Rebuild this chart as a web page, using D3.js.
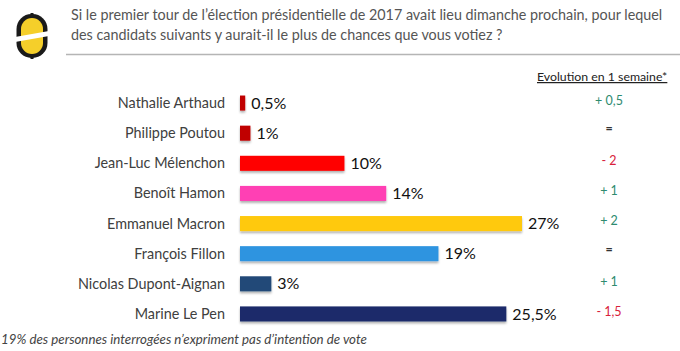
<!DOCTYPE html>
<html>
<head>
<meta charset="utf-8">
<script src="https://cdn.jsdelivr.net/npm/d3@7"></script>
<style>
  body { margin: 0; background: #fff; }
  text { font-family: Lato, sans-serif; }
</style>
</head>
<body>
<div class="container"></div>
<script>
const width = 680;
const height = 351;

const candidates = ["Nathalie Arthaud", "Philippe Poutou", "Jean-Luc Mélenchon", "Benoît Hamon", "Emmanuel Macron", "François Fillon", "Nicolas Dupont-Aignan", "Marine Le Pen"];
const scores = [0.5, 1, 10, 14, 27, 19, 3, 25.5];
const scoreLabels = ["0,5%", "1%", "10%", "14%", "27%", "19%", "3%", "25,5%"];
const barColors = ["#c00000", "#c00000", "#ff0000", "#ff3fb4", "#ffc90e", "#2f94e0", "#234a78", "#1b2a6b"];
const evolutions = ["+ 0,5", "=", "- 2", "+ 1", "+ 2", "=", "+ 1", "- 1,5"];
const titleLines = [
    "Si le premier tour de l’élection présidentielle de 2017 avait lieu dimanche prochain, pour lequel",
    "des candidats suivants y aurait-il le plus de chances que vous votiez ?"
];

const evoColor = (s) => s[0] === "+" ? "#2e8b6f" : s[0] === "-" ? "#d8213b" : "#333";

const svg = d3.select(".container")
    .append("svg")
    .attr("width", width)
    .attr("height", height)
    .style("display", "block");

const defs = svg.append("defs");
const shadow = defs.append("filter").attr("id", "shadow")
    .attr("x", "-20%").attr("y", "-20%").attr("width", "140%").attr("height", "160%");
shadow.append("feDropShadow")
    .attr("dx", 0).attr("dy", 2).attr("stdDeviation", 1.2)
    .attr("flood-color", "#000").attr("flood-opacity", 0.3);

const xScale = d3.scaleLinear().domain([0, 27]).range([240, 522]);
const yScale = d3.scaleBand().domain(candidates).range([88, 329]).paddingInner(0.5).paddingOuter(0.25);

// logo
const logo = svg.append("g").attr("transform", "translate(32, 36)");
logo.append("rect").attr("x", -15.5).attr("y", -22).attr("width", 31).attr("height", 44).attr("rx", 15).attr("fill", "#1a1a1a");
logo.append("rect").attr("x", -1.5).attr("y", -23).attr("width", 3).attr("height", 46).attr("fill", "#1a1a1a");
logo.append("rect").attr("x", -11).attr("y", -18).attr("width", 22).attr("height", 36).attr("rx", 11).attr("fill", "#f5cf2a");
logo.append("path").attr("d", "M-17,1 L17,-5 L17,0 L-17,6 Z").attr("fill", "#fff");

// title
svg.append("g").selectAll("text")
    .data(titleLines)
    .join("text")
    .attr("x", 71)
    .attr("y", (d, i) => 20 + i * 19.5)
    .attr("font-size", 14.35)
    .attr("fill", "#555")
    .text(d => d);

svg.append("line")
    .attr("x1", 66).attr("x2", 680)
    .attr("y1", 54.5).attr("y2", 54.5)
    .attr("stroke", "#b5b5b5")
    .attr("stroke-width", 1.5);

// bars
svg.append("g").selectAll("rect")
    .data(candidates)
    .join("rect")
    .attr("x", xScale(0))
    .attr("y", d => yScale(d))
    .attr("width", (d, i) => xScale(scores[i]) - xScale(0))
    .attr("height", yScale.bandwidth())
    .attr("fill", (d, i) => barColors[i])
    .attr("filter", "url(#shadow)");

// candidate names
svg.append("g").selectAll("text")
    .data(candidates)
    .join("text")
    .attr("x", 225)
    .attr("y", d => yScale(d) + yScale.bandwidth() / 2)
    .attr("dy", "0.35em")
    .attr("text-anchor", "end")
    .attr("font-size", 14.4)
    .attr("fill", "#404040")
    .text(d => d);

// score labels
svg.append("g").selectAll("text")
    .data(scoreLabels)
    .join("text")
    .attr("x", (d, i) => xScale(scores[i]) + 6)
    .attr("y", (d, i) => yScale(candidates[i]) + yScale.bandwidth() / 2)
    .attr("dy", "0.35em")
    .attr("font-size", 16)
    .attr("fill", "#111")
    .text(d => d);

// evolution column
svg.append("text")
    .attr("x", 537).attr("y", 81)
    .attr("font-size", 12.3)
    .attr("fill", "#222")
    .attr("text-decoration", "underline")
    .text("Evolution en 1 semaine*");

svg.append("g").selectAll("text")
    .data(evolutions)
    .join("text")
    .attr("x", 609)
    .attr("y", (d, i) => yScale(candidates[i]) + yScale.bandwidth() / 2 - (d === "=" ? 4.5 : 2.5))
    .attr("dy", "0.35em")
    .attr("text-anchor", "middle")
    .attr("font-size", 12.5)
    .attr("font-weight", d => d === "=" ? 700 : 400)
    .attr("fill", d => evoColor(d))
    .text(d => d);

// footnote
svg.append("text")
    .attr("x", 1).attr("y", 344)
    .attr("font-size", 13.3)
    .attr("font-style", "italic")
    .attr("fill", "#444")
    .text("19% des personnes interrogées n’expriment pas d’intention de vote");
</script>
</body>
</html>
